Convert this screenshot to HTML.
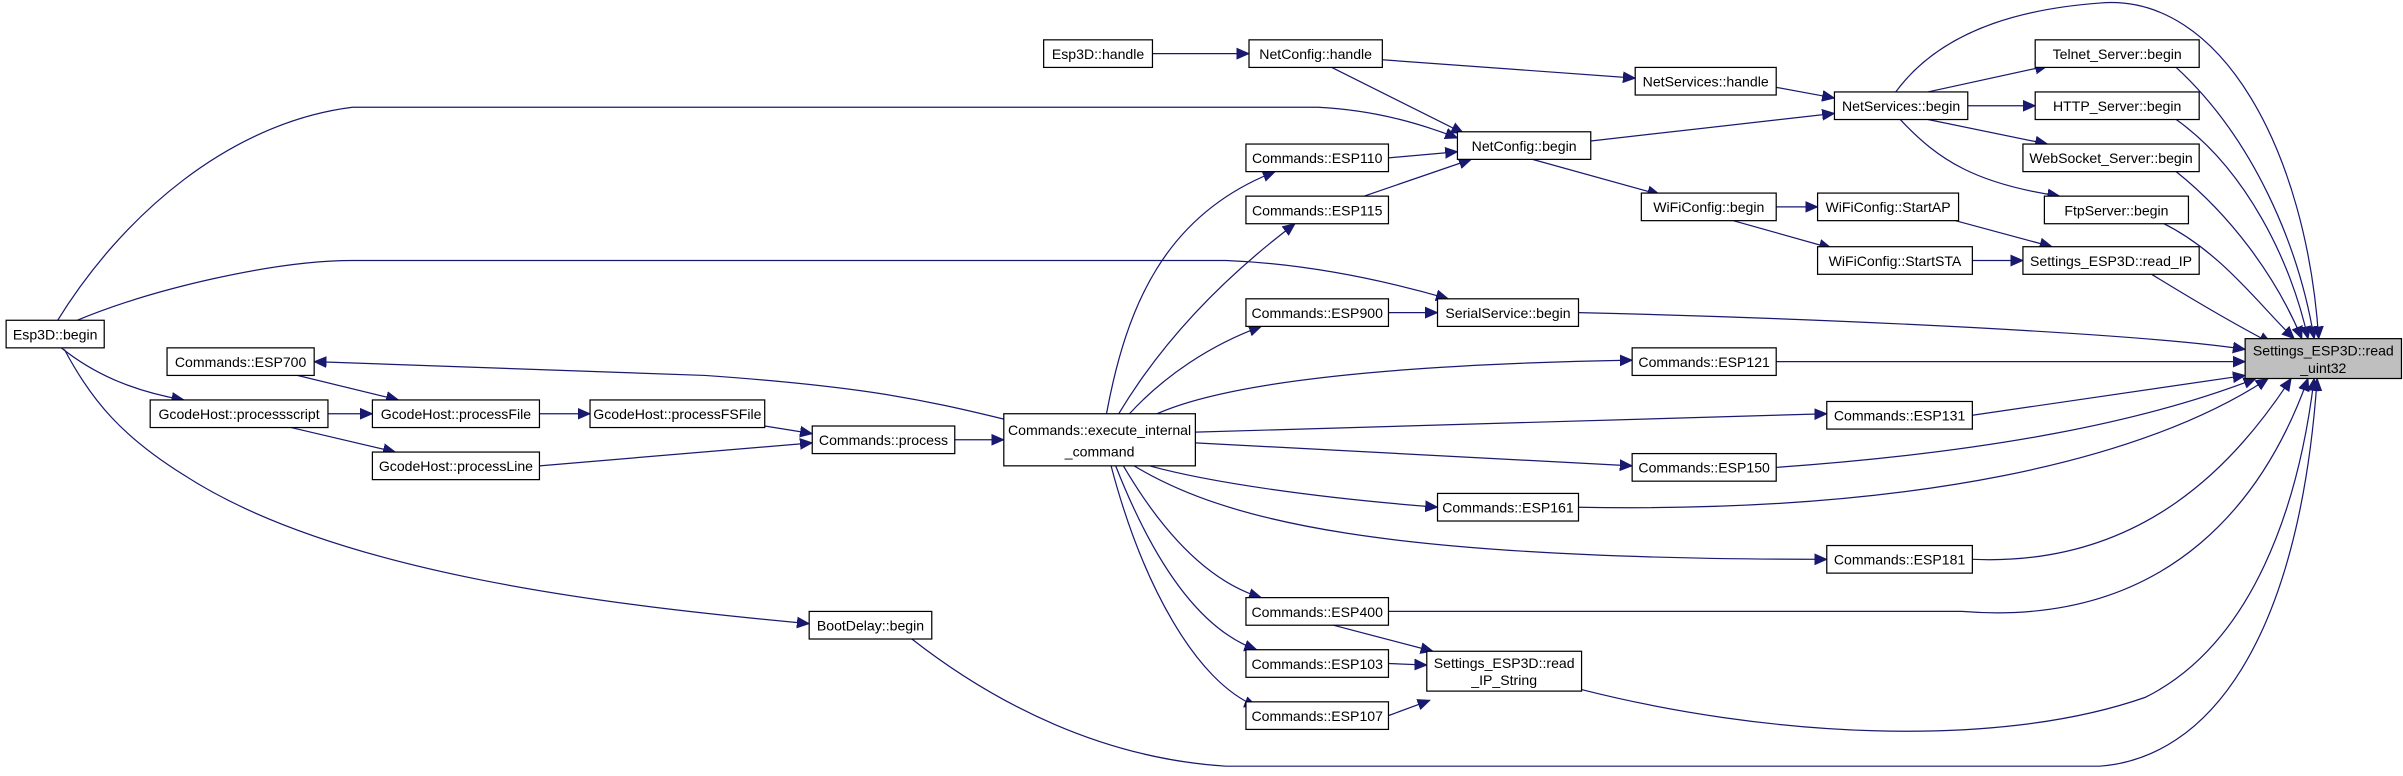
<!DOCTYPE html>
<html><head><meta charset="utf-8"><style>
html,body{margin:0;padding:0;background:#fff;}
svg{display:block}
text{font-family:"Liberation Sans",Arial,sans-serif;font-size:9.2px;fill:#000;text-anchor:middle}
.e{fill:none;stroke:#191970;stroke-width:0.8}
.n{fill:#fff;stroke:#000;stroke-width:0.8}
</style></head><body>
<svg width="2403" height="776" viewBox="0 0 1568 506.4" preserveAspectRatio="none" xmlns="http://www.w3.org/2000/svg">
<defs><marker id="a" markerUnits="userSpaceOnUse" markerWidth="9" markerHeight="8" refX="8" refY="4" orient="auto"><path d="M0,0.5 L8,4 L0,7.5 Z" fill="#191970" stroke="#191970" stroke-width="0.6"/></marker></defs>
<g class="e" marker-end="url(#a)">
<path d="M752,35 L815,35"/>
<path d="M902,39 L1067,51"/>
<path d="M869,44 L955,87"/>
<path d="M1159,57 L1197,64"/>
<path d="M1038,92 L1197,74"/>
<path d="M1258,60 L1336,43"/>
<path d="M1284,69 L1328,69"/>
<path d="M1258,78 L1336,94"/>
<path d="M1240,78 C1265,105 1290,120 1344,128"/>
<path d="M1237,60 C1270,15 1330,5 1370,2 C1450,-5 1505,100 1513,221"/>
<path d="M1420,44 C1470,90 1500,160 1510,221"/>
<path d="M1420,78 C1465,110 1495,170 1506,221"/>
<path d="M1420,112 C1455,140 1485,180 1502,221"/>
<path d="M1412,146 C1450,165 1475,200 1497,221"/>
<path d="M1404,179 C1430,195 1455,210 1482,224"/>
<path d="M1000,104 L1083,127"/>
<path d="M1159,135 L1186,135"/>
<path d="M1131,144 L1195,162"/>
<path d="M1276,144 L1339,161"/>
<path d="M1287,170 L1320,170"/>
<path d="M906,103 L951,99"/>
<path d="M890,128 L960,104"/>
<path d="M37,210 C80,140 150,80 230,70 L860,70 C900,72 930,82 951,90"/>
<path d="M48,210 C100,188 180,170 230,170 L800,170 C850,172 900,182 945,195"/>
<path d="M906,204 L938,204"/>
<path d="M1030,204 C1200,208 1400,218 1465,228"/>
<path d="M40,227 C60,243 85,255 120,261"/>
<path d="M42,228 C60,262 80,285 120,310 C220,375 400,395 528,407"/>
<path d="M595,417 C650,460 720,495 800,500 L1370,500 C1440,495 1500,420 1512,247"/>
<path d="M190,244 L260,261"/>
<path d="M214,270 L243,270"/>
<path d="M190,279 L258,295"/>
<path d="M352,270 L385,270"/>
<path d="M499,278 L530,283"/>
<path d="M352,304 L530,289"/>
<path d="M623,287 L655,287"/>
<path d="M657,274 C600,260 560,252 460,245 L205,236"/>
<path d="M722,270 C735,200 760,140 832,112"/>
<path d="M730,270 C760,220 800,180 845,146"/>
<path d="M737,270 C760,245 790,225 823,213"/>
<path d="M755,270 C800,250 900,238 1065,235"/>
<path d="M780,282 L1192,270"/>
<path d="M780,289 L1065,304"/>
<path d="M750,304 C790,315 860,325 938,331"/>
<path d="M740,304 C800,340 900,365 1192,365"/>
<path d="M733,304 C760,350 790,380 823,390"/>
<path d="M728,304 C750,360 780,410 820,424"/>
<path d="M725,304 C745,380 780,445 820,461"/>
<path d="M1159,236 L1465,236"/>
<path d="M1287,271 L1465,245"/>
<path d="M1159,305 C1300,295 1400,275 1472,247"/>
<path d="M1030,331 C1250,335 1400,300 1480,247"/>
<path d="M1287,365 C1400,370 1460,300 1495,247"/>
<path d="M906,399 L1280,399 C1420,410 1480,320 1506,247"/>
<path d="M1032,450 C1150,480 1300,490 1400,455 C1470,420 1500,330 1510,247"/>
<path d="M870,408 L935,425"/>
<path d="M906,433 L931,434"/>
<path d="M906,467 L933,457"/>
</g>
<g>
<rect class="n" x="681" y="26" width="71" height="18"/><text x="716.5" y="38.5">Esp3D::handle</text>
<rect class="n" x="815" y="26" width="87" height="18"/><text x="858.5" y="38.5">NetConfig::handle</text>
<rect class="n" x="1067" y="44" width="92" height="18"/><text x="1113" y="56.5">NetServices::handle</text>
<rect class="n" x="1197" y="60" width="87" height="18"/><text x="1240.5" y="72.5">NetServices::begin</text>
<rect class="n" x="1328" y="26" width="107" height="18"/><text x="1381.5" y="38.5">Telnet_Server::begin</text>
<rect class="n" x="1328" y="60" width="107" height="18"/><text x="1381.5" y="72.5">HTTP_Server::begin</text>
<rect class="n" x="1320" y="94" width="115" height="18"/><text x="1377.5" y="106.5">WebSocket_Server::begin</text>
<rect class="n" x="1334" y="128" width="94" height="18"/><text x="1381" y="140.5">FtpServer::begin</text>
<rect class="n" x="951" y="86" width="87" height="18"/><text x="994.5" y="98.5">NetConfig::begin</text>
<rect class="n" x="813" y="94" width="93" height="18"/><text x="859.5" y="106.5">Commands::ESP110</text>
<rect class="n" x="813" y="128" width="93" height="18"/><text x="859.5" y="140.5">Commands::ESP115</text>
<rect class="n" x="1071" y="126" width="88" height="18"/><text x="1115" y="138.5">WiFiConfig::begin</text>
<rect class="n" x="1186" y="126" width="92" height="18"/><text x="1232" y="138.5">WiFiConfig::StartAP</text>
<rect class="n" x="1186" y="161" width="101" height="18"/><text x="1236.5" y="173.5">WiFiConfig::StartSTA</text>
<rect class="n" x="1320" y="161" width="115" height="18"/><text x="1377.5" y="173.5">Settings_ESP3D::read_IP</text>
<rect class="n" x="938" y="195" width="92" height="18"/><text x="984" y="207.5">SerialService::begin</text>
<rect class="n" x="813" y="195" width="93" height="18"/><text x="859.5" y="207.5">Commands::ESP900</text>
<rect class="n" x="4" y="209" width="64" height="18"/><text x="36" y="221.5">Esp3D::begin</text>
<rect class="n" x="109" y="227" width="96" height="18"/><text x="157" y="239.5">Commands::ESP700</text>
<rect class="n" x="98" y="261" width="116" height="18"/><text x="156" y="273.5">GcodeHost::processscript</text>
<rect class="n" x="243" y="261" width="109" height="18"/><text x="297.5" y="273.5">GcodeHost::processFile</text>
<rect class="n" x="385" y="261" width="114" height="18"/><text x="442" y="273.5">GcodeHost::processFSFile</text>
<rect class="n" x="243" y="295" width="109" height="18"/><text x="297.5" y="307.5">GcodeHost::processLine</text>
<rect class="n" x="530" y="278" width="93" height="18"/><text x="576.5" y="290.5">Commands::process</text>
<rect class="n" x="655" y="270" width="125" height="34"/><text x="717.5" y="284">Commands::execute_internal</text><text x="717.5" y="298">_command</text>
<rect class="n" x="1065" y="227" width="94" height="18"/><text x="1112" y="239.5">Commands::ESP121</text>
<rect class="n" x="1192" y="262" width="95" height="18"/><text x="1239.5" y="274.5">Commands::ESP131</text>
<rect class="n" x="1065" y="296" width="94" height="18"/><text x="1112" y="308.5">Commands::ESP150</text>
<rect class="n" x="938" y="322" width="92" height="18"/><text x="984" y="334.5">Commands::ESP161</text>
<rect class="n" x="1192" y="356" width="95" height="18"/><text x="1239.5" y="368.5">Commands::ESP181</text>
<rect class="n" x="813" y="390" width="93" height="18"/><text x="859.5" y="402.5">Commands::ESP400</text>
<rect class="n" x="813" y="424" width="93" height="18"/><text x="859.5" y="436.5">Commands::ESP103</text>
<rect class="n" x="813" y="458" width="93" height="18"/><text x="859.5" y="470.5">Commands::ESP107</text>
<rect class="n" x="931" y="425" width="101" height="26"/><text x="981.5" y="436">Settings_ESP3D::read</text><text x="981.5" y="447">_IP_String</text>
<rect class="n" x="528" y="399" width="80" height="18"/><text x="568" y="411.5">BootDelay::begin</text>
<rect class="n" x="1465" y="221" width="102" height="26" style="fill:#bfbfbf"/><text x="1516" y="232">Settings_ESP3D::read</text><text x="1516" y="243.5">_uint32</text>
</g>
</svg>
</body></html>
